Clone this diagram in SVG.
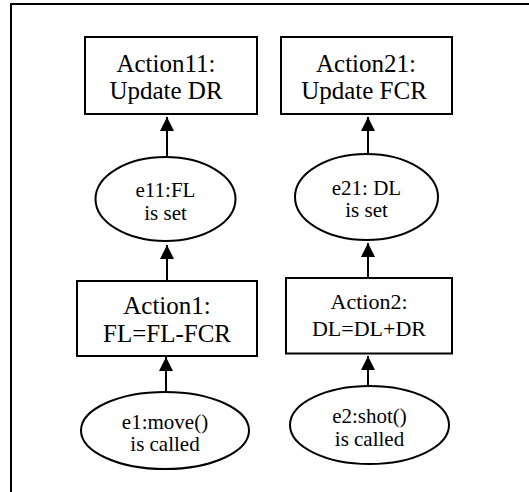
<svg xmlns="http://www.w3.org/2000/svg" width="529" height="492" viewBox="0 0 529 492">
  <style>
    .frame { fill: none; stroke: #000; stroke-width: 2; }
    .box { fill: #fff; stroke: #000; stroke-width: 2; }
    .evt { fill: #fff; stroke: #000; stroke-width: 2; }
    .edge { stroke: #000; stroke-width: 2; fill: none; }
    text { font-family: "Liberation Serif", "Times New Roman", serif; fill: #000; text-anchor: middle; }
    .big { font-size: 25px; }
    .mid { font-size: 22px; }
    .sm { font-size: 21px; }
  </style>
  <defs>
    <marker id="arrow" markerUnits="userSpaceOnUse" markerWidth="16" markerHeight="16" refX="14" refY="7" orient="auto">
      <path d="M0,0 L14,7 L0,14 Z" fill="#000"/>
    </marker>
  </defs>

  <rect x="0" y="0" width="529" height="492" fill="#fff"/>
  <!-- outer frame, open towards the right and bottom edges -->
  <path class="frame" d="M11,500 L11,4 L540,4"/>

  <!-- connectors: each arrow points from the lower node up to the upper one -->
  <g id="connectors">
    <line class="edge" x1="167" y1="156" x2="167" y2="117" marker-end="url(#arrow)"/>
    <line class="edge" x1="167" y1="281" x2="167" y2="245" marker-end="url(#arrow)"/>
    <line class="edge" x1="166" y1="392" x2="166" y2="357" marker-end="url(#arrow)"/>
    <line class="edge" x1="368" y1="156" x2="368" y2="117" marker-end="url(#arrow)"/>
    <line class="edge" x1="368" y1="279" x2="368" y2="243" marker-end="url(#arrow)"/>
    <line class="edge" x1="368" y1="386" x2="368" y2="356" marker-end="url(#arrow)"/>
  </g>

  <!-- left chain -->
  <g id="action11">
    <rect class="box" x="85" y="37" width="172" height="77"/>
    <text class="big" x="166" y="72">Action11:</text>
    <text class="big" x="166" y="99">Update DR</text>
  </g>
  <g id="e11">
    <ellipse class="evt" cx="165.5" cy="199" rx="70" ry="42"/>
    <text class="sm" x="165.5" y="197">e11:FL</text>
    <text class="sm" x="165.5" y="220">is set</text>
  </g>
  <g id="action1">
    <rect class="box" x="77" y="281" width="180" height="75"/>
    <text class="big" x="167" y="314">Action1:</text>
    <text class="big" x="167" y="342">FL=FL-FCR</text>
  </g>
  <g id="e1">
    <ellipse class="evt" cx="165" cy="430.5" rx="84" ry="38.5"/>
    <text class="sm" x="165" y="429">e1:move()</text>
    <text class="sm" x="165" y="451">is called</text>
  </g>

  <!-- right chain -->
  <g id="action21">
    <rect class="box" x="281" y="37" width="171" height="77"/>
    <text class="big" x="366" y="72">Action21:</text>
    <text class="big" x="364" y="99">Update FCR</text>
  </g>
  <g id="e21">
    <ellipse class="evt" cx="366.5" cy="197" rx="71.5" ry="43"/>
    <text class="sm" x="366.5" y="195">e21: DL</text>
    <text class="sm" x="366.5" y="217">is set</text>
  </g>
  <g id="action2">
    <rect class="box" x="286" y="278" width="166" height="75.5"/>
    <text class="mid" x="369" y="309">Action2:</text>
    <text class="mid" x="369" y="336">DL=DL+DR</text>
  </g>
  <g id="e2">
    <ellipse class="evt" cx="369.5" cy="425" rx="79.5" ry="39"/>
    <text class="sm" x="369.5" y="423">e2:shot()</text>
    <text class="sm" x="369.5" y="446">is called</text>
  </g>
</svg>
